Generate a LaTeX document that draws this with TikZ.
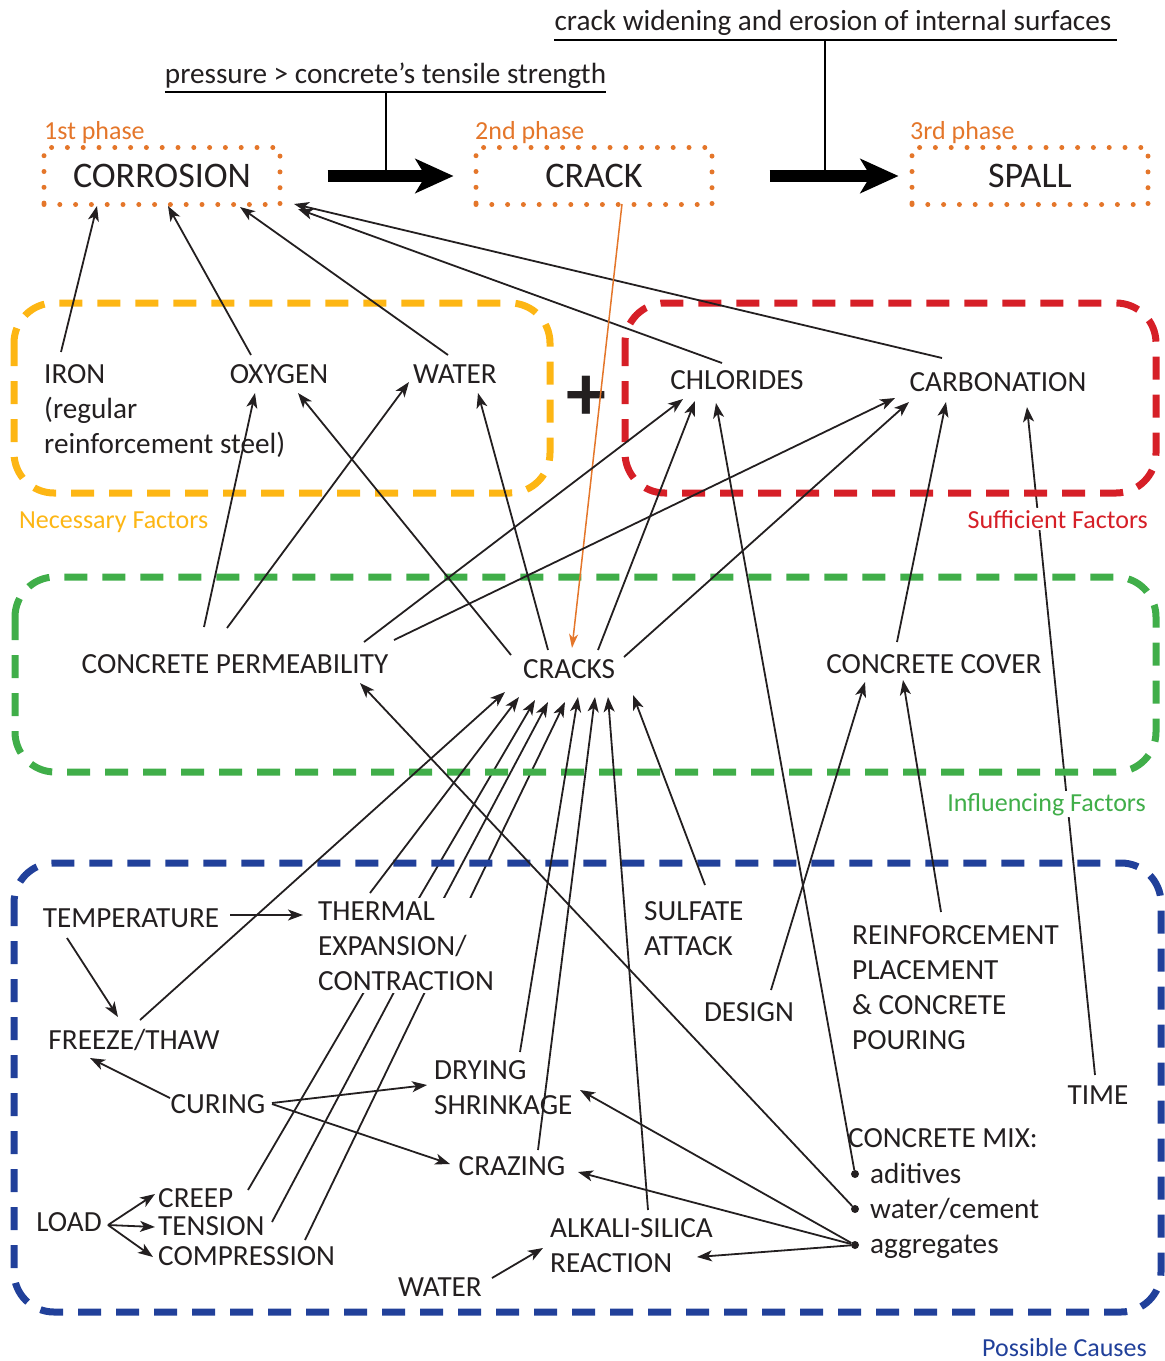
\documentclass[tikz,border=0pt]{standalone}
\usepackage{fontspec}
\setmainfont{Carlito}
\usetikzlibrary{arrows.meta}
\usetikzlibrary{positioning}
\usetikzlibrary{calc}
\usetikzlibrary{backgrounds}
\definecolor{ink}{RGB}{35,31,32}
\definecolor{phaseorange}{RGB}{228,118,42}
\definecolor{necyellow}{RGB}{253,182,20}
\definecolor{sufred}{RGB}{214,31,39}
\definecolor{infgreen}{RGB}{64,174,73}
\definecolor{posblue}{RGB}{33,64,154}
\tikzstyle{phase}=[
        draw=phaseorange,
        line width=5pt,
        line cap=round,
        dash pattern=on 0pt off 15.8pt,
        minimum width=236pt,
        minimum height=57pt,
        inner sep=0pt,
        text=ink,
        font=\fontsize{36}{40}\selectfont
]
\tikzstyle{phasetag}=[text=phaseorange,inner sep=0pt,font=\fontsize{26}{30}\selectfont]
\tikzstyle{factor}=[text=ink,inner sep=0pt,font=\fontsize{29.2}{35}\selectfont]
\tikzstyle{block}=[factor,align=left]
\tikzstyle{grouptag}=[fill=white,inner sep=2pt,font=\fontsize{26}{30}\selectfont]
\tikzstyle{frame}=[line width=7pt,dash pattern=on 23pt off 15pt,rounded corners=40pt]
\tikzstyle{suite}=[draw=ink,line width=1.8pt,-{Stealth[length=15pt,width=11pt,inset=4pt]}]
\tikzstyle{orangesuite}=[draw=phaseorange,line width=1.5pt,-{Stealth[length=14pt,width=9pt,inset=4pt]}]
\tikzstyle{rule}=[draw=black,line width=2pt]
\tikzstyle{bigarrow}=[draw=black,line width=12pt,-{Stealth[length=38pt,width=34pt,inset=10pt]}]
\tikzstyle{bullet}=[circle,fill=ink,inner sep=0pt,minimum size=8pt]
\begin{document}
\begin{tikzpicture}[x=1pt,y=-1pt]
\useasboundingbox (0,0) rectangle (1165,1361);
% phases
\node[phase] (corrosion) at (162,176) {CORROSION};
\node[phase] (crack) at (594,176) {CRACK};
\node[phase] (spall) at (1030,176) {SPALL};
\node[phasetag,anchor=base west] (tag1) at (44,139) {1st phase};
\node[phasetag,anchor=base west] (tag2) at (475,139) {2nd phase};
\node[phasetag,anchor=base west] (tag3) at (910,139) {3rd phase};
\node[factor,anchor=base,inner ysep=4pt] (press) at (385.5,83) {pressure > concrete’s tensile strength};
\node[factor,anchor=base,inner ysep=5pt] (widen) at (833,30) {crack widening and erosion of internal surfaces};
\draw[bigarrow,shorten <=45pt,shorten >=20pt] (corrosion) -- (crack);
\draw[bigarrow,shorten <=55pt,shorten >=11pt] (crack) -- (spall);
\draw[rule] (press.south west) -- (press.south east);
\draw[rule] (widen.south west) -- ([xshift=5pt]widen.south east);
\draw[rule] (press.south) -- (press.south |- corrosion);
\draw[rule] ([xshift=-8pt]widen.south) -- ([xshift=-8pt]widen.south |- spall);
% groups
\draw[frame,necyellow] (14,303) rectangle (550,493);
\draw[frame,sufred] (625,303) rectangle (1156,493);
\draw[frame,infgreen] (15,577) rectangle (1156,772);
\draw[frame,posblue] (14,863) rectangle (1161,1312);
\node[grouptag,text=necyellow,anchor=base west] (necessary) at (17,528) {Necessary Factors};
\node[grouptag,text=sufred,anchor=base east] (sufficient) at (1150,528) {Sufficient Factors};
\node[grouptag,text=infgreen,anchor=base east] (influencing) at (1148,811) {Influencing Factors};
\node[grouptag,text=posblue,anchor=base east] (possible) at (1149,1356) {Possible Causes};
% factors
\node[block,anchor=base west] (iron) at (44,453) {IRON\\(regular\\reinforcement steel)};
\node[factor] (oxygen) at (279,374) {OXYGEN};
\node[factor] (water) at (455,374) {WATER};
\node[text=ink,inner sep=0pt,font=\fontsize{80}{80}\selectfont\bfseries] (plus) at (586,398) {+};
\node[factor] (chlorides) at (737,380) {CHLORIDES};
\node[factor] (carbonation) at (998,382) {CARBONATION};
\node[factor] (permeability) at (235,664) {CONCRETE PERMEABILITY};
\node[factor] (cracks) at (569,669) {CRACKS};
\node[factor] (cover) at (934,664) {CONCRETE COVER};
% causes
\node[factor] (temperature) at (131,918) {TEMPERATURE};
\node[block,anchor=base west,fill=white,inner sep=3pt] (thermal) at (315,990) {THERMAL\\EXPANSION/\\CONTRACTION};
\node[block,anchor=base west] (sulfate) at (644,955) {SULFATE\\ATTACK};
\node[block,anchor=base west] (reinforcement) at (852,1049) {REINFORCEMENT\\PLACEMENT\\\& CONCRETE\\POURING};
\node[factor] (design) at (749,1012) {DESIGN};
\node[factor] (freeze) at (134,1040) {FREEZE/THAW};
\node[factor] (time) at (1098,1095) {TIME};
\node[factor] (curing) at (218,1104) {CURING};
\node[block,anchor=base west] (drying) at (434,1114) {DRYING\\SHRINKAGE};
\node[factor,anchor=base west] (mix) at (848,1147) {CONCRETE MIX:};
\node[bullet] (dotadd) at (855,1174) {};
\node[bullet] (dotwc) at (855,1209) {};
\node[bullet] (dotagg) at (855,1245) {};
\node[factor,anchor=base west] (additives) at (870,1183) {aditives};
\node[factor,anchor=base west] (watercement) at (870,1218) {water/cement};
\node[factor,anchor=base west] (aggregates) at (870,1253) {aggregates};
\node[factor] (crazing) at (512,1166) {CRAZING};
\node[factor] (load) at (69,1222) {LOAD};
\node[factor,anchor=base west] (creep) at (158,1207) {CREEP};
\node[factor,anchor=base west] (tension) at (158,1235) {TENSION};
\node[factor,anchor=base west] (compression) at (158,1265) {COMPRESSION};
\node[block,anchor=base west] (alkali) at (550,1272) {ALKALI-SILICA\\REACTION};
\node[factor] (asrwater) at (440,1287) {WATER};
% arrows to corrosion
\draw[suite] ($(iron.base west)+(17,-101)$) -- ($(corrosion)+(-65,30)$);
\draw[suite] ($(oxygen)+(-28,-19)$) -- ($(corrosion)+(6,30)$);
\draw[suite] ($(water)+(-7,-19)$) -- ($(corrosion)+(78,31)$);
\draw[suite] ($(chlorides)+(-15,-17)$) -- ($(corrosion)+(136,33)$);
\draw[suite] ($(carbonation)+(-56,-24)$) -- ($(corrosion)+(132,28)$);
\draw[orangesuite] ($(crack)+(28,28)$) -- ($(cracks)+(3,-21)$);
% influencing -> necessary / sufficient
\draw[suite] ($(permeability)+(-31,-37)$) -- ($(oxygen)+(-24,19)$);
\draw[suite] ($(cracks)+(-58,-14)$) -- ($(oxygen)+(19,19)$);
\draw[suite] ($(permeability)+(-8,-36)$) -- ($(water)+(-46,8)$);
\draw[suite] ($(cracks)+(-21,-19)$) -- ($(water)+(23,19)$);
\draw[suite] ($(permeability)+(129,-22)$) -- ($(chlorides)+(-54,19)$);
\draw[suite] ($(cracks)+(29,-19)$) -- ($(chlorides)+(-42,21)$);
\draw[suite] ($(permeability)+(159,-24)$) -- ($(carbonation)+(-103,16)$);
\draw[suite] ($(cracks)+(55,-12)$) -- ($(carbonation)+(-89,20)$);
\draw[suite] ($(cover)+(-37,-22)$) -- ($(carbonation)+(-52,20)$);
% causes -> cracks
\draw[suite] ($(freeze)+(6,-20)$) -- ($(cracks)+(-64,23)$);
\draw[suite] ($(thermal.base west)+(55,-97)$) -- ($(cracks)+(-50,28)$);
\begin{pgfonlayer}{background}
\draw[suite] ($(creep.base west)+(90,-17)$) -- ($(cracks)+(-34,31)$);
\draw[suite] ($(tension.base west)+(114,-13)$) -- ($(cracks)+(-21,33)$);
\draw[suite] ($(compression.base west)+(147,-25)$) -- ($(cracks)+(-4,33)$);
\draw[suite] ($(time)+(-3,-20)$) -- ($(carbonation)+(29,25)$);
\end{pgfonlayer}
\draw[suite] ($(drying.base west)+(86,-62)$) -- ($(cracks)+(9,28)$);
\draw[suite] ($(crazing)+(26,-16)$) -- ($(cracks)+(26,28)$);
\draw[suite] ($(alkali.base west)+(98,-62)$) -- ($(cracks)+(39,28)$);
\draw[suite] ($(sulfate.base west)+(61,-70)$) -- ($(cracks)+(64,26)$);
% causes -> cover, mix
\draw[suite] ($(design)+(22,-22)$) -- ($(cover)+(-69,18)$);
\draw[suite] ($(reinforcement.base west)+(89,-137)$) -- ($(cover)+(-31,16)$);
\draw[suite] (dotadd) -- ($(chlorides)+(-21,23)$);
\draw[suite] (dotwc) -- ($(permeability)+(125,19)$);
% inside causes
\draw[suite] ($(temperature)+(99,-3)$) -- ($(thermal.base west)+(-12,-75)$);
\draw[suite] ($(temperature)+(-64,20)$) -- ($(freeze)+(-16,-23)$);
\draw[suite] ($(curing)+(-48,-6)$) -- ($(freeze)+(-44,18)$);
\draw[suite] ($(curing)+(54,-1)$) -- ($(drying.base west)+(-7,-29)$);
\draw[suite] ($(curing)+(54,0)$) -- ($(crazing)+(-62,-2)$);
\draw[suite] ($(load)+(39,3)$) -- ($(creep.base west)+(-3,-13)$);
\draw[suite] ($(load)+(39,3)$) -- ($(tension.base west)+(-3,-8)$);
\draw[suite] ($(load)+(39,3)$) -- ($(compression.base west)+(-5,-8)$);
\draw[suite] ($(asrwater)+(52,-9)$) -- ($(alkali.base west)+(-7,-24)$);
\draw[suite] (dotagg) -- ($(drying.base west)+(146,-24)$);
\draw[suite] (dotagg) -- ($(crazing)+(66,6)$);
\draw[suite] (dotagg) -- ($(alkali.base west)+(147,-15)$);
\end{tikzpicture}
\end{document}
